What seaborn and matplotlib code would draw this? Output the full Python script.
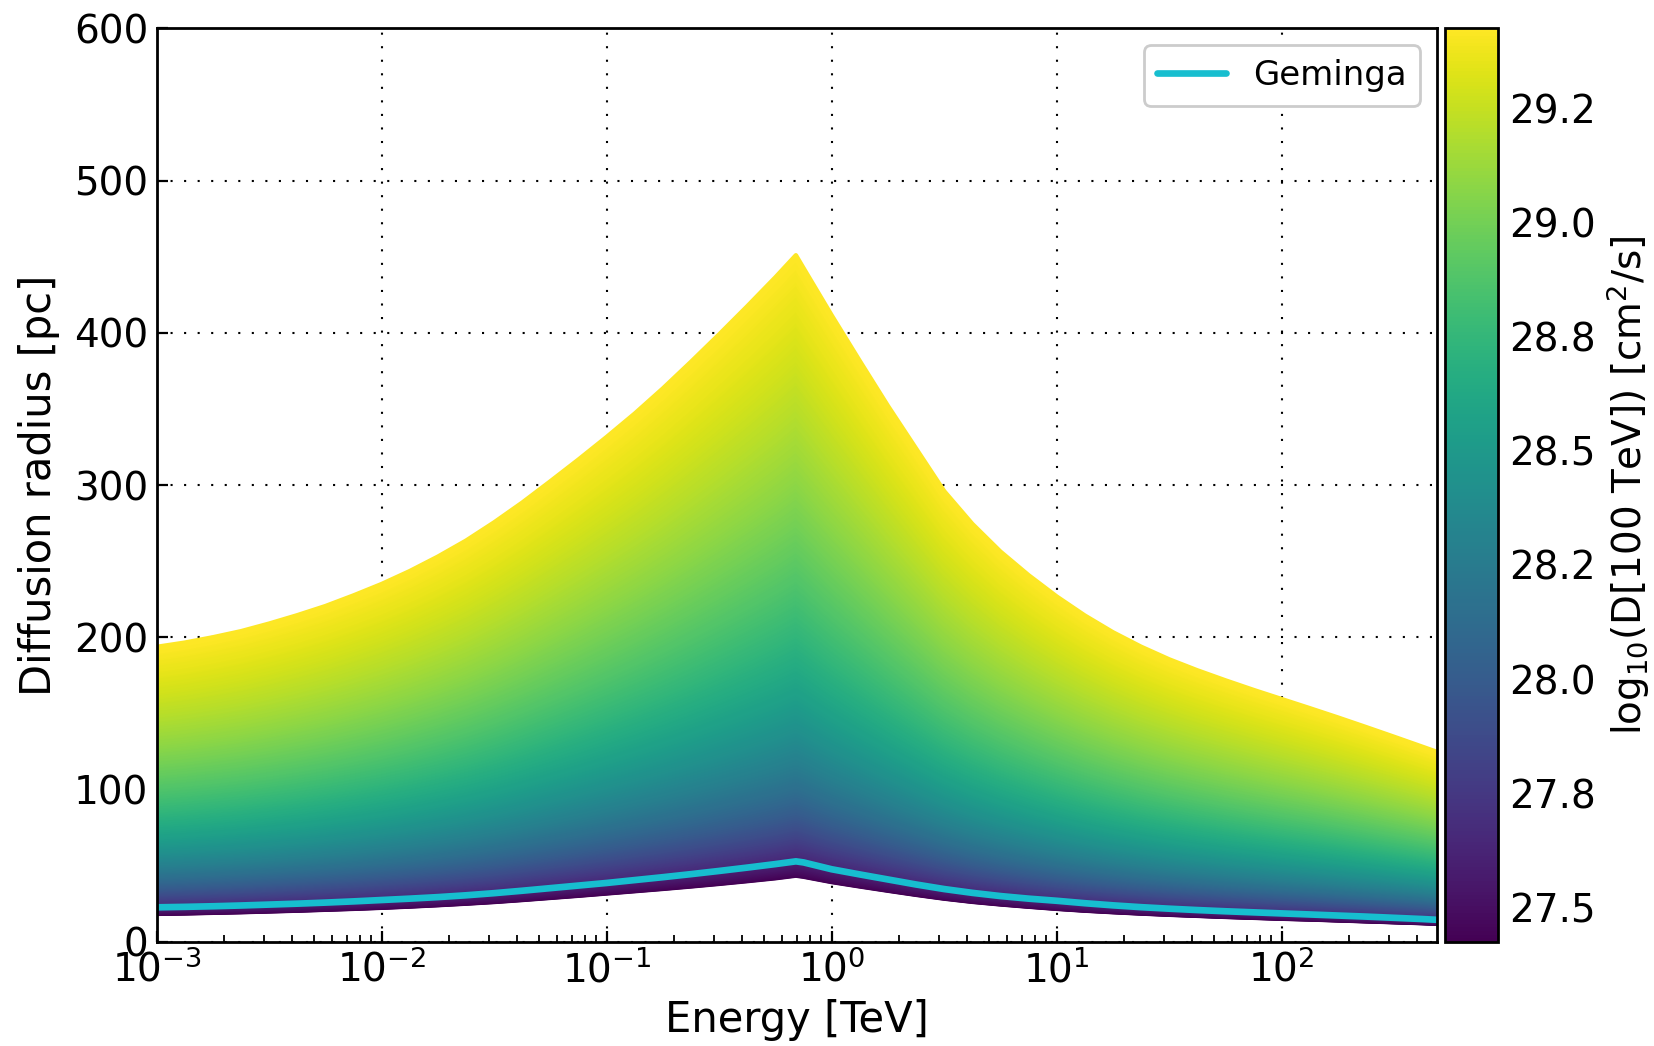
import numpy as np
import pandas as pd
import matplotlib
matplotlib.use("Agg")
import matplotlib.pyplot as plt
import matplotlib.ticker as mticker
import seaborn as sns

# ---------------- data ----------------
log10_energy_tev = [-3.0, -2.875, -2.75, -2.625, -2.5, -2.375, -2.25, -2.125, -2.0, -1.875,
                    -1.75, -1.625, -1.5, -1.375, -1.25, -1.125, -1.0, -0.875, -0.75, -0.625,
                    -0.5, -0.375, -0.25, -0.159, -0.125, 0.0, 0.125, 0.25, 0.375, 0.5,
                    0.625, 0.75, 0.875, 1.0, 1.125, 1.25, 1.375, 1.5, 1.625, 1.75,
                    1.875, 2.0, 2.125, 2.25, 2.375, 2.5, 2.625, 2.69]
# radius of the largest-D curve (top edge of the band), pc
radius_top = [193.7, 196.5, 200.0, 204.0, 209.0, 214.5, 220.5, 227.5, 235.0, 243.5,
              253.0, 263.5, 275.5, 288.5, 302.5, 316.8, 331.6, 347.0, 363.5, 381.0,
              399.0, 417.5, 436.5, 451.0, 442.5, 411.5, 381.5, 352.0, 324.0, 296.0,
              274.5, 256.3, 240.8, 226.8, 214.3, 203.3, 193.8, 185.5, 178.3, 171.7,
              165.4, 159.4, 153.4, 147.3, 141.0, 134.6, 128.1, 124.7]
# radius of the smallest-D curve (bottom edge of the band), pc
radius_bottom = [18.3, 18.6, 19.0, 19.4, 19.9, 20.4, 21.0, 21.6, 22.3, 23.1,
                 24.0, 25.0, 26.1, 27.4, 28.8, 30.2, 31.7, 33.2, 34.7, 36.3,
                 38.0, 39.8, 41.7, 43.4, 42.7, 39.2, 36.3, 33.5, 30.8, 28.3,
                 26.2, 24.5, 23.0, 21.6, 20.4, 19.4, 18.5, 17.7, 17.0, 16.3,
                 15.7, 15.1, 14.6, 14.0, 13.4, 12.8, 12.2, 11.8]
# Geminga curve, pc
radius_geminga = [22.6, 22.9, 23.3, 23.8, 24.4, 25.0, 25.7, 26.5, 27.4, 28.3,
                  29.3, 30.5, 31.9, 33.5, 35.2, 36.9, 38.6, 40.5, 42.4, 44.4,
                  46.5, 48.7, 51.0, 52.8, 52.1, 47.6, 44.2, 40.9, 37.6, 34.6,
                  32.1, 30.0, 28.3, 26.9, 25.3, 23.9, 22.7, 21.7, 20.8, 20.0,
                  19.3, 18.6, 17.9, 17.2, 16.5, 15.7, 14.9, 14.4]
logD_min, logD_max = 27.425, 29.425
n_levels = 400
logD_levels = np.linspace(logD_min, logD_max, n_levels)
cbar_ticks = [27.5, 27.75, 28.0, 28.25, 28.5, 28.75, 29.0, 29.25]
y_ticks = [0, 100, 200, 300, 400, 500, 600]

# ---------------- build long table of the fan of curves ----------------
E = 10.0 ** np.array(log10_energy_tev)
rt = np.array(radius_top)
rb = np.array(radius_bottom)
rows = []
for L in logD_levels:
    t = (L - logD_min) / (logD_max - logD_min)
    r = rb * (rt / rb) ** t
    rows.append(pd.DataFrame({"energy": E, "radius": r, "logD": L}))
df = pd.concat(rows, ignore_index=True)

# ---------------- style ----------------
sns.set_style("ticks")
plt.rcParams.update({
    "font.family": ["DejaVu Sans"],
    "mathtext.fontset": "dejavusans",
    "text.color": "black",
    "axes.labelcolor": "black",
    "axes.edgecolor": "black",
    "xtick.color": "black",
    "ytick.color": "black",
    "axes.linewidth": 2.0,
    "xtick.direction": "in",
    "ytick.direction": "in",
    "xtick.major.size": 8,
    "ytick.major.size": 8,
    "xtick.minor.size": 5,
    "xtick.major.width": 1.6,
    "ytick.major.width": 1.6,
    "xtick.minor.width": 1.3,
    "xtick.major.pad": 6,
    "ytick.major.pad": 6,
    "xtick.labelsize": 28,
    "ytick.labelsize": 28,
    "axes.labelsize": 30,
})

fig = plt.figure(figsize=(16.54, 10.46), dpi=100)
ax = fig.add_axes([0.0947, 0.0997, 0.7741, 0.8731])
cax = fig.add_axes([0.8736, 0.0997, 0.0320, 0.8731])

ax.set_xscale("log")
norm = plt.Normalize(logD_min, logD_max)
sns.lineplot(data=df, x="energy", y="radius", hue="logD", units="logD",
             estimator=None, palette="viridis", hue_norm=norm, legend=False,
             linewidth=3.2, sort=False, ax=ax)
sns.lineplot(x=E, y=radius_geminga, color="#17becf", linewidth=4.8,
             label="Geminga", sort=False, ax=ax)

ax.set_xlim(1e-3, 490)
ax.set_ylim(0, 600)
ax.set_yticks(y_ticks)
ax.xaxis.set_major_locator(mticker.LogLocator(base=10, numticks=12))
ax.xaxis.set_minor_locator(mticker.LogLocator(base=10, subs=np.arange(2, 10), numticks=12))
ax.xaxis.set_minor_formatter(mticker.NullFormatter())
ax.tick_params(which="both", top=False, right=False)
ax.set_axisbelow(True)
ax.grid(True, which="major", color="black", linewidth=1.5,
        linestyle=(0, (1.0, 5.5)))
ax.set_xlabel("Energy [TeV]", labelpad=7)
ax.set_ylabel("Diffusion radius [pc]", labelpad=10)
for s in ax.spines.values():
    s.set_linewidth(2.0)

leg = ax.legend(loc="upper right", fontsize=24.5, handlelength=2.0,
                frameon=True, fancybox=True, framealpha=1.0,
                borderpad=0.4)
leg.get_frame().set_edgecolor("#cccccc")
leg.get_frame().set_linewidth(2.0)

sm = plt.cm.ScalarMappable(cmap="viridis", norm=norm)
cb = fig.colorbar(sm, cax=cax)
cb.set_ticks(cbar_ticks)
cb.ax.yaxis.set_major_formatter(mticker.FormatStrFormatter("%.1f"))
cb.ax.tick_params(direction="in", labelsize=28, length=8, width=1.6, right=True, pad=8)
cb.outline.set_linewidth(2.0)
cb.set_label("log$_{10}$(D[100 TeV]) [cm$^2$/s]", fontsize=28, labelpad=6)

fig.savefig("out.png", dpi=100)
